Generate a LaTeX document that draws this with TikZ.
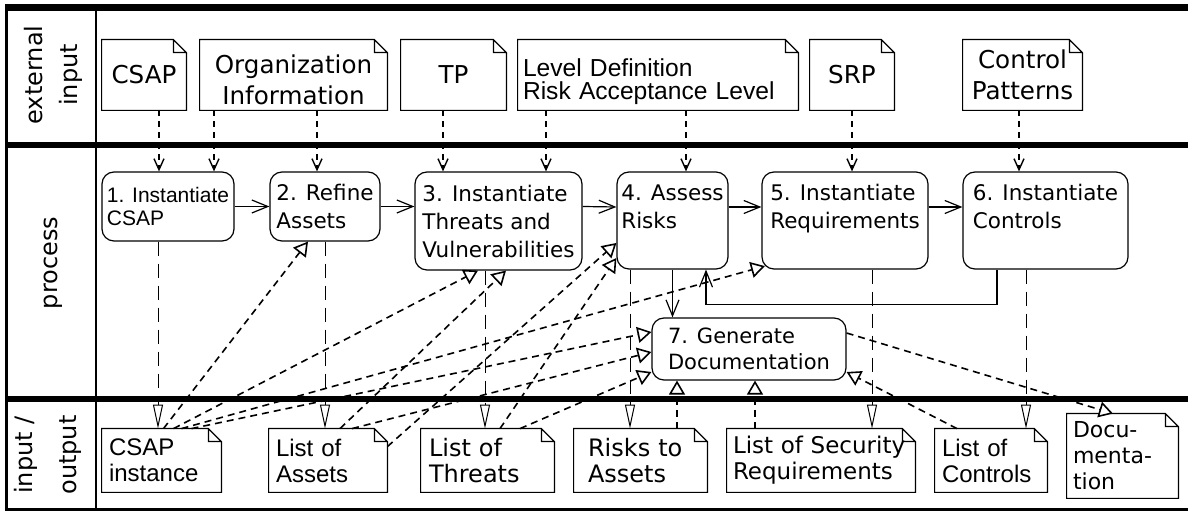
\documentclass[tikz,border=0pt]{standalone}
\usepackage{fontspec}
\setmainfont{DejaVu Sans}
\newfontfamily\arialfont{Liberation Sans}
\usetikzlibrary{arrows.meta}

\tikzset{
  lane/.style={line width=3pt},
  lanelabel/.style={rotate=90, align=center},
  docline/.style={line width=0.6pt},
  extdoc/.style={minimum height=35pt, inner sep=0pt, align=center,
    font=\fontsize{12.3}{15.5}\selectfont},
  iodoc/.style={minimum height=31.5pt, inner sep=0pt, align=left,
    font=\fontsize{12}{13}\selectfont},
  proc/.style={draw, rounded corners=6pt, line width=0.6pt, inner sep=0pt,
    align=left, font=\fontsize{10.75}{14}\selectfont},
  ext/.style={line width=0.7pt, dash pattern=on 3pt off 2.5pt,
    -{Straight Barb[length=5.5pt,width=5pt]}},
  flow/.style={line width=0.6pt, -{Straight Barb[length=8pt,width=6.5pt]}},
  outp/.style={line width=0.5pt, dash pattern=on 7pt off 4pt,
    -{Triangle[open,fill=white,length=12pt,width=5pt]}},
  inp/.style={line width=0.8pt, dash pattern=on 3.5pt off 2.5pt,
    -{Triangle[open,fill=white,length=7pt,width=8pt]}}
}

\begin{document}
\begin{tikzpicture}[x=0.5pt,y=-0.5pt]
\useasboundingbox (0,0) rectangle (1188,512);

% lanes
\draw[lane, line width=3.5pt] (5.5,7.5) -- (1188,7.5);
\draw[lane] (5.5,145.5) -- (1188,145.5);
\draw[lane] (5.5,399.5) -- (1188,399.5);
\draw[lane, line width=1.5pt] (5.5,510) -- (1188,510);
\draw[line width=1.5pt] (6.5,4) -- (6.5,511.5);
\draw[line width=1pt] (95.5,4) -- (95.5,511.5);

\node[lanelabel, font=\fontsize{12}{17.5}\selectfont] (lext) at (53,75) {external\\input};
\node[lanelabel, font=\fontsize{12}{14}\selectfont] (lproc) at (53,263) {process};
\node[lanelabel, font=\fontsize{12}{22}\selectfont] (lio) at (48,455) {input /\\output};

% external input
\node[extdoc, minimum width=42pt] (csap) at (144,75) {CSAP};
\node[extdoc, minimum width=93.5pt] (org) at (293.5,75) {\rule{0pt}{14pt}Organization\\Information};
\node[extdoc, minimum width=52.5pt] (tp) at (453.5,75) {TP};
\node[extdoc, minimum width=140pt, text width=135pt, align=left,
  font=\arialfont\fontsize{12.3}{11.5}\selectfont] (lvl) at (658,75) {\rule{0pt}{16pt}Level Definition\\Risk Acceptance Level};
\node[extdoc, minimum width=42pt] (srp) at (852,75) {SRP};
\node[extdoc, minimum width=59.5pt] (ctp) at (1022.5,75) {Control\\Patterns};

% process
\node[proc, minimum width=66pt, minimum height=34.5pt,
  font=\arialfont\fontsize{10.5}{11.5}\selectfont] (p1) at (168,206.5) {1. Instantiate\\CSAP};
\node[proc, minimum width=55pt, minimum height=34.5pt] (p2) at (325,206.5) {2. Refine\\Assets};
\node[proc, minimum width=83.5pt, minimum height=49pt] (p3) at (498.5,221) {3. Instantiate\\Threats and\\Vulnerabilities};
\node[proc, minimum width=55.5pt, minimum height=48.5pt] (p4) at (672.5,220.5) {4. Assess\\Risks\\\mbox{}};
\node[proc, minimum width=83pt, minimum height=48.5pt] (p5) at (845,220.5) {5. Instantiate\\Requirements\\\mbox{}};
\node[proc, minimum width=82.5pt, minimum height=48.5pt] (p6) at (1045.5,220.5) {6. Instantiate\\Controls\\\mbox{}};
\node[proc, minimum width=97pt, minimum height=31pt,
  font=\fontsize{10.5}{13}\selectfont] (p7) at (749,349) {7. Generate\\Documentation};

% input / output
\node[iodoc, minimum width=59.5pt, text width=52.5pt, font=\arialfont\fontsize{12}{13}\selectfont] (inst) at (161.5,460.5) {CSAP\\instance};
\node[iodoc, minimum width=59pt, text width=52pt, font=\arialfont\fontsize{12}{13}\selectfont] (assets) at (328,460.5) {List of\\Assets};
\node[iodoc, minimum width=66.5pt, text width=58.5pt] (threats) at (487.5,460.5) {List of\\Threats};
\node[iodoc, minimum width=66.5pt, text width=52.5pt] (risks) at (640.5,460.5) {Risks to\\Assets};
\node[iodoc, minimum width=94pt, text width=88pt, font=\fontsize{11.5}{13}\selectfont] (reqs) at (821,460.5) {List of Security\\Requirements};
\node[iodoc, minimum width=56pt, text width=49pt, font=\arialfont\fontsize{12}{13}\selectfont] (ctrls) at (991,460.5) {List of\\Controls};
\node[iodoc, minimum width=55.5pt, minimum height=42pt, text width=49.5pt,
  font=\fontsize{11}{13}\selectfont] (docu) at (1122.5,456) {Docu-\\menta-\\tion};

% document outlines with folded corner
\foreach \d in {csap,org,tp,lvl,srp,ctp,inst,assets,threats,risks,reqs,ctrls,docu}
  \draw[docline] (\d.north west) -- ([xshift=-6.5pt]\d.north east) -- ([yshift=-6.5pt]\d.north east)
    -- (\d.south east) -- (\d.south west) -- cycle
    ([xshift=-6.5pt]\d.north east) |- ([yshift=-6.5pt]\d.north east);

% external input to process
\draw[ext] ([xshift=7.5pt]csap.south) -- ([xshift=-4.5pt]p1.north);
\draw[ext] ([xshift=-39.75pt]org.south) -- ([xshift=23pt]p1.north);
\draw[ext] ([xshift=11.75pt]org.south) -- ([xshift=-4pt]p2.north);
\draw[ext] ([xshift=-5.25pt]tp.south) -- ([xshift=-27.75pt]p3.north);
\draw[ext] ([xshift=-56pt]lvl.south) -- ([xshift=23.75pt]p3.north);
\draw[ext] ([xshift=14pt]lvl.south) -- ([xshift=6.75pt]p4.north);
\draw[ext] (srp.south) -- ([xshift=3.5pt]p5.north);
\draw[ext] ([xshift=-1.75pt]ctp.south) -- ([xshift=-13.25pt]p6.north);

% control flow
\draw[flow] (p1.east) -- (p2.west);
\draw[flow] (p2.east) -- ([yshift=7.25pt]p3.west);
\draw[flow] ([yshift=7.25pt]p3.east) -- ([yshift=6.75pt]p4.west);
\draw[flow] ([yshift=6.75pt]p4.east) -- ([yshift=6.75pt]p5.west);
\draw[flow] ([yshift=6.75pt]p5.east) -- ([yshift=6.75pt]p6.west);
\draw[flow] (p4.south) -- (p4.south |- p7.north);
\draw[flow] ([xshift=-24.25pt]p6.south) -- ++(0,35) -| ([xshift=16.75pt]p4.south);

% process to output
\draw[outp] ([xshift=-5pt]p1.south) -- ([xshift=-1.75pt]inst.north);
\draw[outp] (p2.south) -- ([xshift=-1.5pt]assets.north);
\draw[outp] ([xshift=-6.75pt]p3.south) -- ([xshift=-1.25pt]threats.north);
\draw[outp] ([xshift=-21.25pt]p4.south) -- ([xshift=-5.25pt]risks.north);
\draw[outp] ([xshift=13.5pt]p5.south) -- ([xshift=25.5pt]reqs.north);
\draw[outp] ([xshift=-9.75pt]p6.south) -- ([xshift=17.5pt]ctrls.north);

% input to process
\draw[inp] ([xshift=1pt]inst.north) -- ([xshift=-8.5pt]p2.south);
\draw[inp] ([xshift=6pt]inst.north) -- ([xshift=-10.25pt]p3.south);
\draw[inp] ([xshift=10pt]inst.north) -- ([shift={(1.75pt,1.75pt)}]p5.south west);
\draw[inp] ([xshift=15pt]inst.north) -- ([yshift=8.5pt]p7.west);
\draw[inp] ([xshift=6pt]assets.north) -- ([xshift=3.75pt]p3.south);
\draw[inp] ([yshift=-9pt]assets.north east) -- ([yshift=-11.25pt]p4.west);
\draw[inp] ([xshift=12pt]assets.north) -- ([yshift=-1.5pt]p7.west);
\draw[inp] ([xshift=6.25pt]threats.north) -- ([yshift=-18.75pt]p4.west);
\draw[inp] ([xshift=16.25pt]threats.north) -- ([yshift=-11.5pt]p7.west);
\draw[inp] ([xshift=18.25pt]risks.north) -- ([xshift=-36pt]p7.south);
\draw[inp] ([xshift=-33pt]reqs.north) -- ([xshift=3pt]p7.south);
\draw[inp] ([xshift=-17pt]ctrls.north) -- ([yshift=-11.5pt]p7.east);
\draw[inp] ([yshift=8pt]p7.east) -- ([xshift=-4.75pt]docu.north);
\end{tikzpicture}
\end{document}
